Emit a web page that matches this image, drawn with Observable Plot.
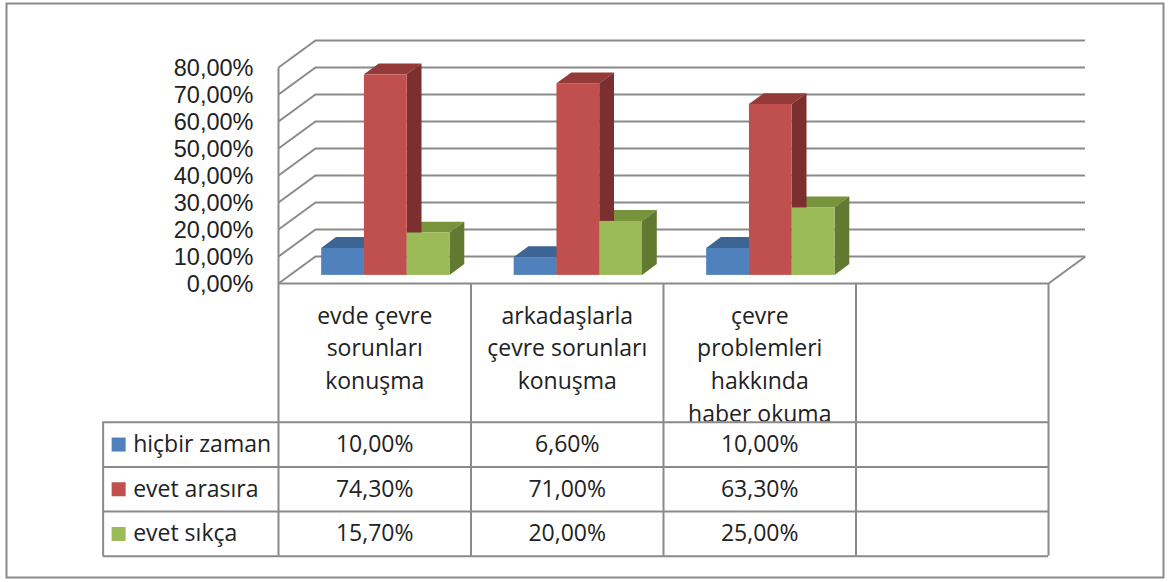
<!DOCTYPE html>
<html>
<head>
<meta charset="utf-8">
<script src="https://cdn.jsdelivr.net/npm/d3@7"></script>
<script src="https://cdn.jsdelivr.net/npm/@observablehq/plot@0.6"></script>
<style>
  body { margin: 0; background: #fff; }
  svg { display: block; }
</style>
</head>
<body>
<div id="chart"></div>
<script>
// ---- data ----
const categories = ["evde çevre\nsorunları\nkonuşma", "arkadaşlarla\nçevre sorunları\nkonuşma", "çevre\nproblemleri\nhakkında\nhaber okuma"];
const seriesNames = ["hiçbir zaman", "evet arasıra", "evet sıkça"];
const hicbirZaman = [10.0, 6.6, 10.0];
const evetArasira = [74.3, 71.0, 63.3];
const evetSikca = [15.7, 20.0, 25.0];
const yTicks = [0, 10, 20, 30, 40, 50, 60, 70, 80];

const seriesValues = [hicbirZaman, evetArasira, evetSikca];
const frontColors = ["#4F81BD", "#C0504D", "#9BBB59"];
const topColors = ["#3D6594", "#943B39", "#77933C"];
const sideColors = ["#2F5480", "#7B2F2E", "#617A31"];

const fmt = v => v.toFixed(2).replace(".", ",") + "%";

// ---- 3D geometry (in scale units) ----
const nSlots = 4;              // 3 categories + empty slot as in the source table
const DX = 0.192, DY = 10;     // floor depth offset
const bw = 1 / 4.5, half = 0.75 * bw;
const t0 = 0.3, td = 0.4;      // bar depth start / thickness (fraction of floor depth)

const bars = [];
categories.forEach((c, i) => {
  seriesValues.forEach((vals, s) => {
    const x1 = i + half + s * bw + t0 * DX;
    const y0 = t0 * DY;
    bars.push({id: `${i}-${s}`, s, x1, x2: x1 + bw, y0, y1: y0 + vals[i]});
  });
});
const tops = bars.flatMap(b => [
  {id: b.id, fill: topColors[b.s], y: b.y1, x1: b.x1, x2: b.x2},
  {id: b.id, fill: topColors[b.s], y: b.y1 + td * DY, x1: b.x1 + td * DX, x2: b.x2 + td * DX}
]);
const sides = bars.flatMap(b => [
  {id: b.id, fill: sideColors[b.s], x: b.x2, y1: b.y0, y2: b.y1},
  {id: b.id, fill: sideColors[b.s], x: b.x2 + td * DX, y1: b.y0 + td * DY, y2: b.y1 + td * DY}
]);

// ---- table layout (px converted into y units) ----
const pxPerUnit = (283 - 67) / 80;
const headerH = 138.7 / pxPerUnit, rowH = 44.7 / pxPerUnit;
const rowTop = -headerH;
const rowLines = [0, 1, 2, 3].map(k => rowTop - k * rowH);
const rowCenter = s => rowTop - (s + 0.5) * rowH;
const legendLeft = -0.911;

const cells = [];
seriesValues.forEach((vals, s) => vals.forEach((v, i) => cells.push({x: i + 0.5, y: rowCenter(s), text: fmt(v)})));
const legendRows = seriesNames.map((n, s) => ({name: n, y: rowCenter(s), color: frontColors[s]}));

const grid = "#8a8a8a";

const chart = Plot.plot({
  width: 1169,
  height: 582,
  marginLeft: 6, marginRight: 6, marginTop: 3, marginBottom: 5,
  style: {fontFamily: "'Open Sans', sans-serif", color: "#222", background: "#fff"},
  x: {domain: [0, nSlots], range: [278, 1048], axis: null},
  y: {domain: [0, 80], range: [283, 67], axis: null},
  color: {type: "identity"},
  marks: [
    Plot.frame({stroke: "#8a8a8a", strokeWidth: 2}),
    // back wall gridlines
    Plot.ruleY(yTicks, {y: v => v + DY, x1: () => DX, x2: () => nSlots + DX, stroke: grid, strokeWidth: 2}),
    // side wall diagonals
    Plot.link(yTicks, {x1: () => 0, y1: v => v, x2: () => DX, y2: v => v + DY, stroke: grid, strokeWidth: 2}),
    // left wall front edge
    Plot.link([0], {x1: () => 0, x2: () => 0, y1: () => 0, y2: () => 80, stroke: grid, strokeWidth: 2}),
    // floor right diagonal
    Plot.link([0], {x1: () => nSlots, y1: () => 0, x2: () => nSlots + DX, y2: () => DY, stroke: grid, strokeWidth: 2}),
    // bars
    Plot.areaX(tops, {y: "y", x1: "x1", x2: "x2", z: "id", fill: "fill", curve: "linear"}),
    Plot.areaY(sides, {x: "x", y1: "y1", y2: "y2", z: "id", fill: "fill", curve: "linear"}),
    Plot.rect(bars, {x1: "x1", x2: "x2", y1: "y0", y2: "y1", fill: b => frontColors[b.s]}),
    // y axis labels
    Plot.text(yTicks, {x: () => 0, y: v => v, text: fmt, textAnchor: "end", dx: -25, dy: 1, fontSize: 23.5, fontFamily: "'Liberation Sans', Arial, sans-serif", fill: "#222"}),
    // table header texts
    Plot.text(categories, {x: (d, i) => i + 0.5, y: () => 0, text: d => d, lineAnchor: "top", lineHeight: 1.42, dy: 17, fontSize: 23, fill: "#222"}),
    // clip header overflow
    Plot.rect([0], {x1: () => 0, x2: () => nSlots, y1: () => rowLines[0], y2: () => rowLines[3], fill: "#fff"}),
    // table lines
    Plot.ruleY([0], {x1: () => 0, x2: () => nSlots, stroke: grid, strokeWidth: 2}),
    Plot.ruleX(d3.range(nSlots + 1), {y1: () => 0, y2: () => rowLines[3], stroke: grid, strokeWidth: 2}),
    Plot.ruleX([legendLeft], {y1: () => rowLines[0], y2: () => rowLines[3], stroke: grid, strokeWidth: 2}),
    Plot.ruleY(rowLines, {x1: () => legendLeft, x2: () => nSlots, stroke: grid, strokeWidth: 2}),
    // table values
    Plot.text(cells, {x: "x", y: "y", text: "text", fontSize: 23, fill: "#222"}),
    // legend keys
    Plot.dot(legendRows, {x: () => legendLeft, y: "y", dx: 15.5, symbol: "square", r: 7.9, fill: "color"}),
    Plot.text(legendRows, {x: () => legendLeft, y: "y", text: "name", dx: 30, textAnchor: "start", fontSize: 23, fill: "#222"})
  ]
});
document.getElementById("chart").append(chart);
</script>
</body>
</html>
